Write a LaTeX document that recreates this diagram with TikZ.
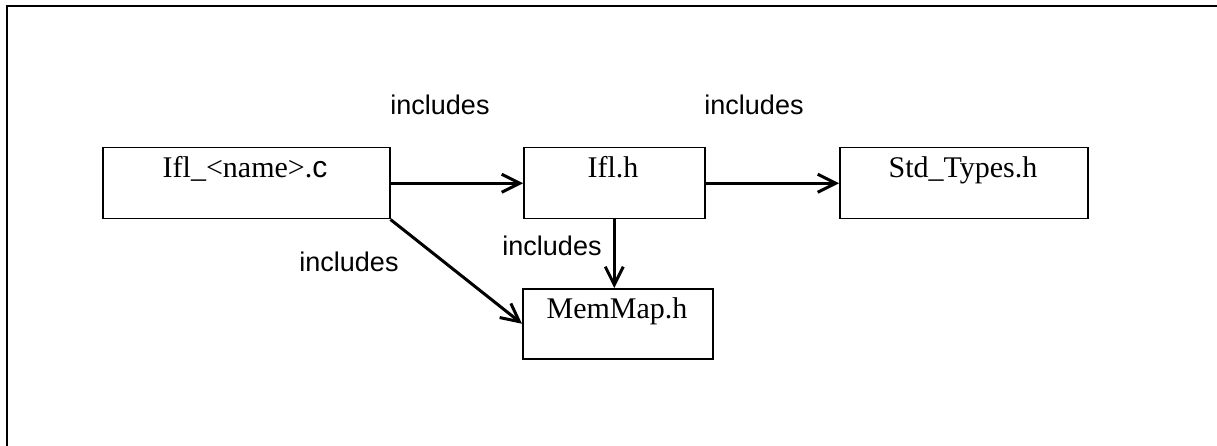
\documentclass[tikz,border=0pt]{standalone}
\usepackage{fontspec}
\setmainfont{Liberation Serif}
\setsansfont{Liberation Sans}
\usetikzlibrary{arrows.meta}
\tikzset{
  filebox/.style={draw=black, line width=1.5pt, rectangle, inner sep=0pt, anchor=north west},
  boxtext/.style={anchor=base, inner sep=0pt, font=\fontsize{30}{36}\selectfont},
  lbl/.style={anchor=base, inner sep=0pt, font=\sffamily\fontsize{27}{32}\selectfont},
  inc/.style={line width=3pt, -{Straight Barb[length=18pt,width=18pt,line width=3pt]}}
}
\begin{document}
\begin{tikzpicture}[x=1pt,y=-1pt]
\useasboundingbox (0,0) rectangle (1217,446);
\fill[white] (0,0) rectangle (1217,446);
\draw[line width=2pt] (7,460) -- (7,6) -- (1230,6);
% boxes
\node[filebox, minimum width=287pt, minimum height=71pt] (b1) at (102,147) {};
\node[filebox, minimum width=181pt, minimum height=71pt] (b2) at (523,147) {};
\node[filebox, minimum width=248pt, minimum height=71pt] (b3) at (839,147) {};
\node[filebox, minimum width=190pt, minimum height=70pt] (b4) at (522,288) {};
% box texts
\node[boxtext] (t1) at (245,178) {Ifl\_<name>.{\sffamily c}};
\node[boxtext] (t2) at (613,178) {Ifl.h};
\node[boxtext] (t3) at (963,178) {Std\_Types.h};
\node[boxtext] (t4) at (617,318) {MemMap.h};
% labels
\node[lbl] (l1) at (440,115) {includes};
\node[lbl] (l2) at (754,115) {includes};
\node[lbl] (l3) at (552,255) {includes};
\node[lbl] (l4) at (349,272) {includes};
% connectors
\draw[inc] (b1.east) -- (b2.west);
\draw[inc] (b2.east) -- (b3.west);
\draw[inc] (b2.south) -- (b2.south |- b4.north);
\draw[inc] (b1.south east) -- (b4.west);
\end{tikzpicture}
\end{document}
